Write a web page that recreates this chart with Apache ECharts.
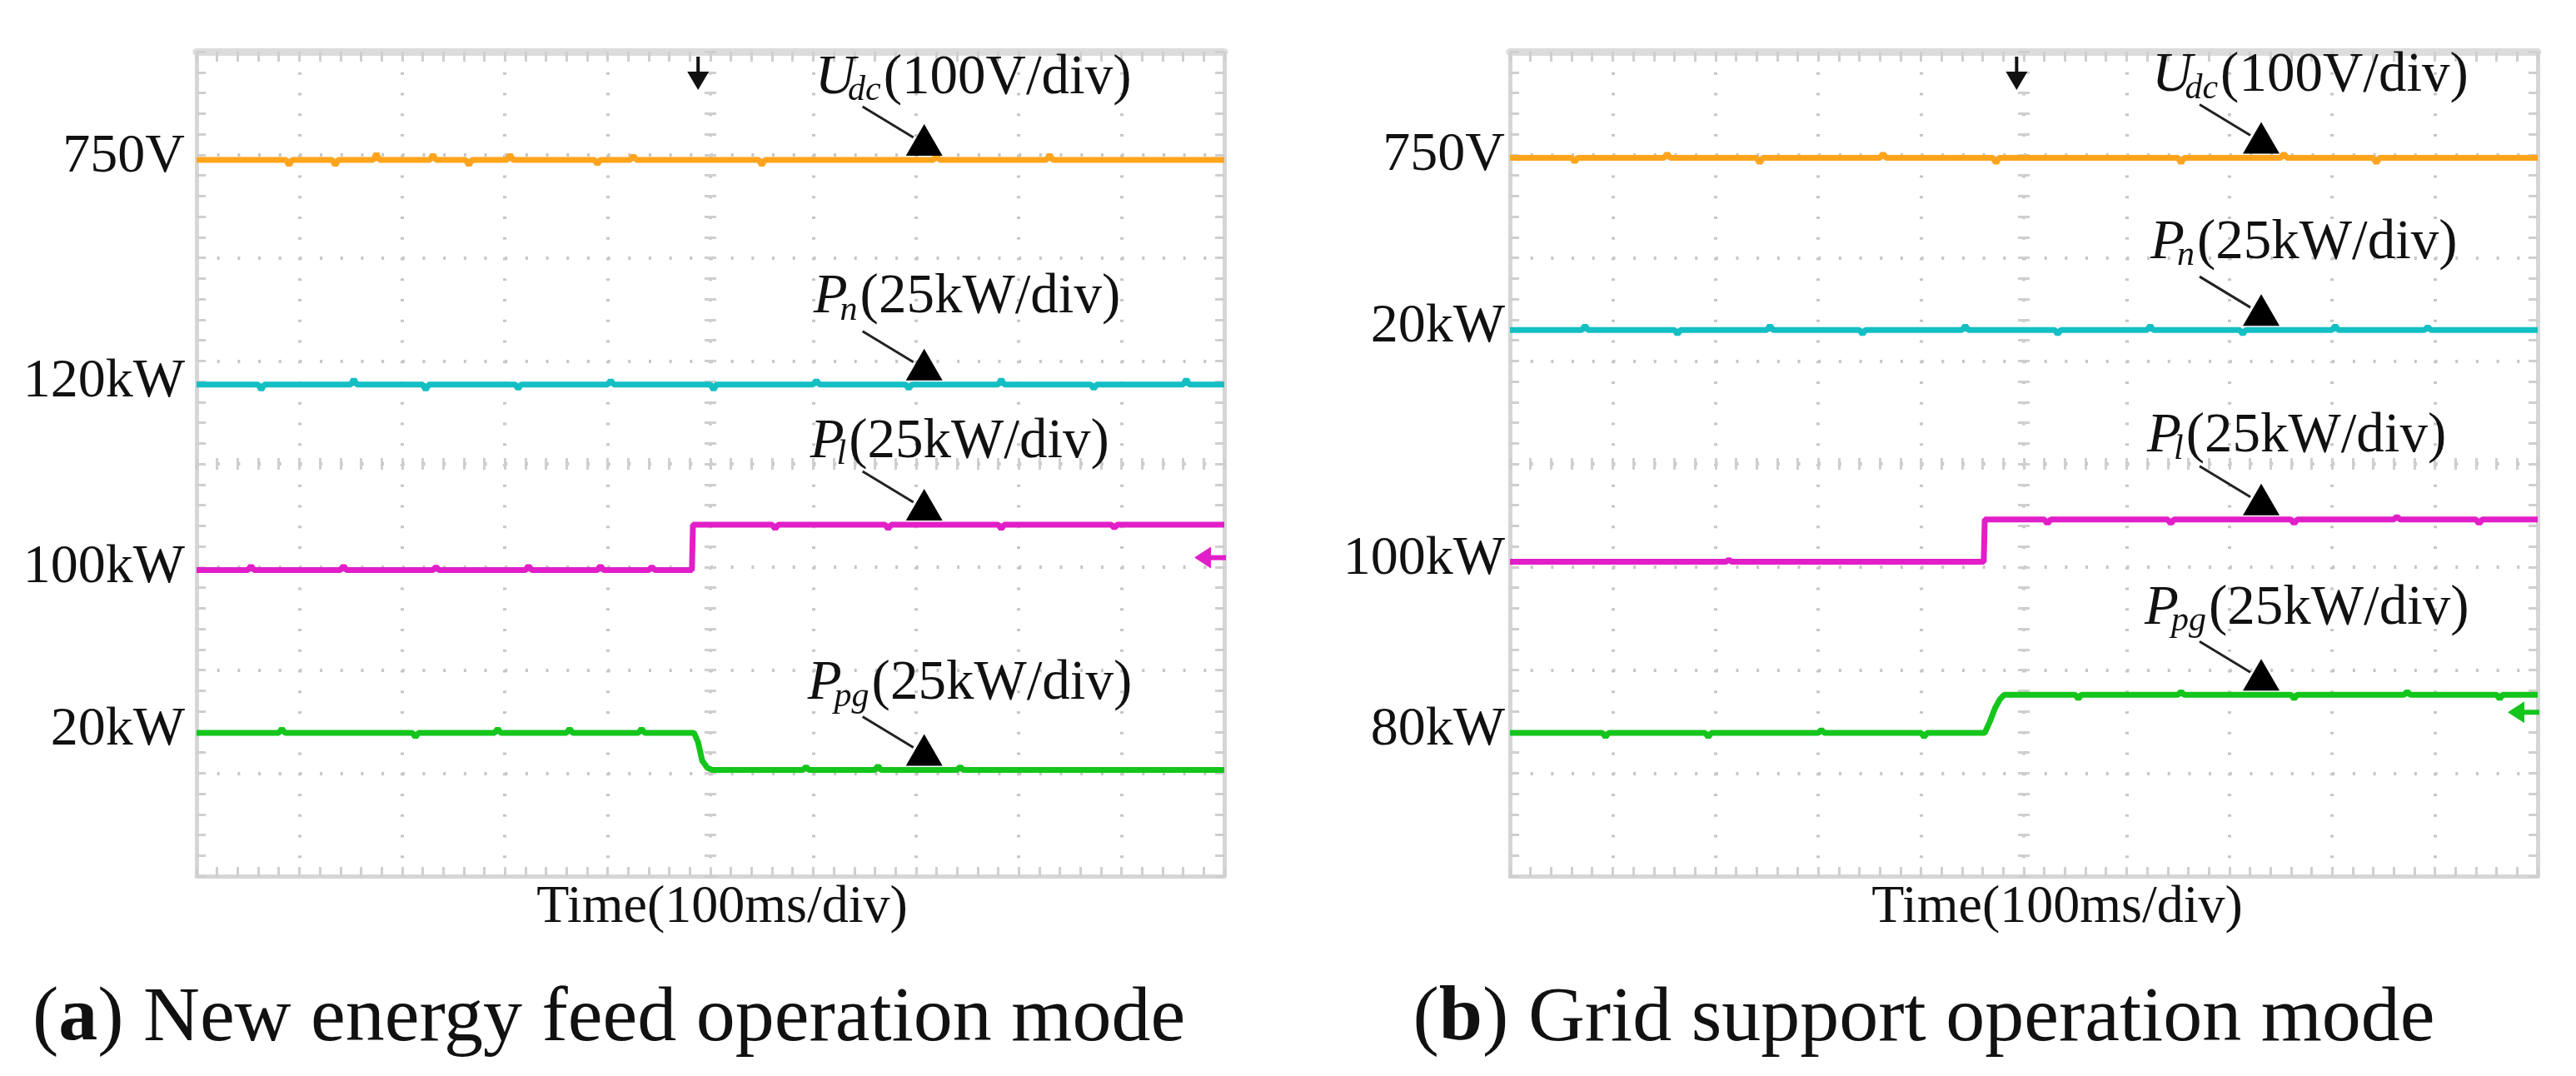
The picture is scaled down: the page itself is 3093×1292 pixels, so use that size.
<!DOCTYPE html>
<html><head><meta charset="utf-8">
<script src="https://cdn.jsdelivr.net/npm/echarts@6/dist/echarts.min.js"></script>
<style>html,body{margin:0;padding:0;background:#fff}#c{width:3093px;height:1292px}</style>
</head><body><div id="c"></div>
<script>
// ---------- DATA (oscilloscope traces, in divisions: x 0..10 time div, y 0..8 from bottom) ----------
const traceNames = ['Udc', 'Pn', 'Pl', 'Ppg'];
const traceColors = ['#ffa41c', '#14bfc4', '#e21ec8', '#14c51c'];
const mainSymbols = ['U', 'P', 'P', 'P'];
const subSymbols = ['dc', 'n', 'l', 'pg'];
const scaleTexts = ['(100V/div)', '(25kW/div)', '(25kW/div)', '(25kW/div)'];
const levelLabelsA = ['750V', '120kW', '100kW', '20kW'];
const levelLabelsB = ['750V', '20kW', '100kW', '80kW'];
const timeLabel = 'Time(100ms/div)';
const captionLetters = ['a', 'b'];
const captionTexts = [' New energy feed operation mode', ' Grid support operation mode'];

const udcA = [[0,6.95],[0.87,6.95],[0.9,6.9],[0.93,6.95],[1.32,6.95],[1.35,6.9],[1.38,6.95],[1.72,6.95],[1.75,7.01],[1.78,6.95],[2.27,6.95],[2.3,7.0],[2.33,6.95],[2.62,6.95],[2.65,6.9],[2.68,6.95],[3.02,6.95],[3.05,7.0],[3.08,6.95],[3.87,6.95],[3.9,6.91],[3.93,6.95],[4.22,6.95],[4.25,6.99],[4.28,6.95],[5.47,6.95],[5.5,6.9],[5.53,6.95],[7.17,6.95],[7.2,6.99],[7.23,6.95],[8.27,6.95],[8.3,7.0],[8.33,6.95],[10,6.95]];
const pnA = [[0,4.77],[0.6,4.77],[0.63,4.72],[0.66,4.77],[1.5,4.77],[1.53,4.82],[1.56,4.77],[2.2,4.77],[2.23,4.72],[2.26,4.77],[3.1,4.77],[3.13,4.73],[3.16,4.77],[4.0,4.77],[4.03,4.81],[4.06,4.77],[5.0,4.77],[5.03,4.72],[5.06,4.77],[6.0,4.77],[6.03,4.81],[6.06,4.77],[6.9,4.77],[6.93,4.73],[6.96,4.77],[7.8,4.77],[7.83,4.82],[7.86,4.77],[8.7,4.77],[8.73,4.73],[8.76,4.77],[9.6,4.77],[9.63,4.82],[9.66,4.77],[10,4.77]];
const plA = [[0,2.97],[0.5,2.97],[0.53,3.01],[0.56,2.97],[1.4,2.97],[1.43,3.01],[1.46,2.97],[2.3,2.97],[2.33,3.0],[2.36,2.97],[3.2,2.97],[3.23,3.01],[3.26,2.97],[3.9,2.97],[3.93,3.01],[3.96,2.97],[4.4,2.97],[4.43,3.0],[4.46,2.97],[4.82,2.97],[4.83,3.41],[5.6,3.41],[5.63,3.37],[5.66,3.41],[6.7,3.41],[6.73,3.37],[6.76,3.41],[7.8,3.41],[7.83,3.37],[7.86,3.41],[8.9,3.41],[8.93,3.38],[8.96,3.41],[10,3.41]];
const ppgA = [[0,1.39],[0.8,1.39],[0.83,1.43],[0.86,1.39],[2.1,1.39],[2.13,1.35],[2.16,1.39],[2.9,1.39],[2.93,1.43],[2.96,1.39],[3.6,1.39],[3.63,1.43],[3.66,1.39],[4.3,1.39],[4.33,1.43],[4.36,1.39],[4.84,1.39],[4.88,1.3],[4.92,1.12],[4.97,1.05],[5.02,1.03],[5.9,1.03],[5.93,1.06],[5.96,1.03],[6.6,1.03],[6.63,1.07],[6.66,1.03],[7.4,1.03],[7.43,1.06],[7.46,1.03],[10,1.03]];

const udcB = [[0,6.97],[0.6,6.97],[0.63,6.93],[0.66,6.97],[1.5,6.97],[1.53,7.01],[1.56,6.97],[2.4,6.97],[2.43,6.92],[2.46,6.97],[3.6,6.97],[3.63,7.01],[3.66,6.97],[4.7,6.97],[4.73,6.92],[4.76,6.97],[6.5,6.97],[6.53,6.92],[6.56,6.97],[7.5,6.97],[7.53,7.01],[7.56,6.97],[8.4,6.97],[8.43,6.92],[8.46,6.97],[10,6.97]];
const pnB = [[0,5.30],[0.7,5.30],[0.73,5.34],[0.76,5.30],[1.6,5.30],[1.63,5.26],[1.66,5.30],[2.5,5.30],[2.53,5.34],[2.56,5.30],[3.4,5.30],[3.43,5.26],[3.46,5.30],[4.4,5.30],[4.43,5.34],[4.46,5.30],[5.3,5.30],[5.33,5.26],[5.36,5.30],[6.2,5.30],[6.23,5.34],[6.26,5.30],[7.1,5.30],[7.13,5.26],[7.16,5.30],[8.0,5.30],[8.03,5.34],[8.06,5.30],[8.9,5.30],[8.93,5.33],[8.96,5.30],[10,5.30]];
const plB = [[0,3.05],[2.1,3.05],[2.13,3.07],[2.16,3.05],[4.61,3.05],[4.62,3.46],[5.2,3.46],[5.23,3.42],[5.26,3.46],[6.4,3.46],[6.43,3.42],[6.46,3.46],[7.6,3.46],[7.63,3.42],[7.66,3.46],[8.6,3.46],[8.63,3.49],[8.66,3.46],[9.4,3.46],[9.43,3.42],[9.46,3.46],[10,3.46]];
const ppgB = [[0,1.39],[0.9,1.39],[0.93,1.35],[0.96,1.39],[1.9,1.39],[1.93,1.35],[1.96,1.39],[3.0,1.39],[3.03,1.42],[3.06,1.39],[4.0,1.39],[4.03,1.35],[4.06,1.39],[4.62,1.39],[4.67,1.5],[4.72,1.63],[4.77,1.72],[4.81,1.76],[5.5,1.76],[5.53,1.72],[5.56,1.76],[6.5,1.76],[6.53,1.79],[6.56,1.76],[7.6,1.76],[7.63,1.72],[7.66,1.76],[8.7,1.76],[8.73,1.79],[8.76,1.76],[9.6,1.76],[9.63,1.72],[9.66,1.76],[10,1.76]];

const tracesA = [udcA, pnA, plA, ppgA];
const tracesB = [udcB, pnB, plB, ppgB];
const annotTime = [7.08, 7.31];          // where the black markers sit (div)
const triggerTime = [4.88, 4.93];        // trigger arrow on top
const refMarker = [[3.09, 2], [1.59, 3]]; // [level, trace index] of right-edge marker

// ---------- LAYOUT / STYLE ----------
const FONT = '"Liberation Serif","Times New Roman",serif';
const gridRects = [{left:236, top:62, width:1234, height:990}, {left:1813, top:62, width:1234, height:990}];
const labelGap = [14, 6];
const textDx = [-131, -133, -137, -140];
const textDy = [-77, -83, -78, -82];
const FRAME = '#d6d6d6', TICK = '#cfcfcf', DOT = '#c6c6c6';

const mctx = document.createElement('canvas').getContext('2d');
function tw(text, font){ mctx.font = font; return mctx.measureText(text).width; }
function valueAt(d, t){ let v = d[0][1]; for (const p of d){ if (p[0] <= t) v = p[1]; } return v; }

const grids = [], xAxes = [], yAxes = [], series = [], graphics = [];

function tickStyle(inside, len){
  return {
    axisTick:{show:true, inside:inside, length:len, lineStyle:{color:TICK, width:3}},
    minorTick:{show:true, splitNumber:5, length:len, lineStyle:{color:TICK, width:3}}
  };
}

[tracesA, tracesB].forEach((traces, p) => {
  const r = gridRects[p];
  const g0 = grids.length;
  grids.push(Object.assign({}, r), Object.assign({}, r), Object.assign({}, r));
  const xi = xAxes.length, yi = yAxes.length;
  xAxes.push(Object.assign({type:'value', gridIndex:g0, position:'bottom', min:0, max:10, interval:1,
    axisLine:{show:true, onZero:false, lineStyle:{color:FRAME, width:5}}, axisLabel:{show:false},
    splitLine:{show:true, lineStyle:{color:DOT, width:4, type:[3, 21.75]}}}, tickStyle(true, 11)));
  xAxes.push(Object.assign({type:'value', gridIndex:g0, position:'top', min:0, max:10, interval:1,
    axisLine:{show:true, onZero:false, lineStyle:{color:'#dcdcdc', width:9}}, axisLabel:{show:false},
    splitLine:{show:false}}, tickStyle(true, 12)));
  yAxes.push(Object.assign({type:'value', gridIndex:g0, position:'left', min:0, max:8, interval:1,
    axisLine:{show:true, onZero:false, lineStyle:{color:FRAME, width:5}}, axisLabel:{show:false},
    splitLine:{show:true, lineStyle:{color:DOT, width:4, type:[3, 21.68]}}}, tickStyle(true, 11)));
  yAxes.push(Object.assign({type:'value', gridIndex:g0, position:'right', min:0, max:8, interval:1,
    axisLine:{show:true, onZero:false, lineStyle:{color:FRAME, width:5}}, axisLabel:{show:false},
    splitLine:{show:false}}, tickStyle(true, 11)));
  [true, false].forEach((ins, k) => {
    xAxes.push(Object.assign({type:'value', gridIndex:g0+1+k, min:-5, max:5, interval:1,
      axisLine:{show:true, onZero:true, lineStyle:{opacity:0}}, axisLabel:{show:false}, splitLine:{show:false}}, tickStyle(ins, 7)));
    yAxes.push(Object.assign({type:'value', gridIndex:g0+1+k, min:-4, max:4, interval:1,
      axisLine:{show:true, onZero:true, lineStyle:{opacity:0}}, axisLabel:{show:false}, splitLine:{show:false}}, tickStyle(ins, 7)));
  });

  traces.forEach((d, i) => {
    series.push({type:'line', name:traceNames[i], xAxisIndex:xi, yAxisIndex:yi, data:d, symbol:'none',
      lineStyle:{color:traceColors[i], width:7}, itemStyle:{color:traceColors[i]}, z:3, silent:true, animation:false});
  });

  const levelLabels = p === 0 ? levelLabelsA : levelLabelsB;
  const fMain = 'italic 67px ' + FONT, fSub = 'italic 42px ' + FONT, fUnit = '67px ' + FONT;
  series.push({
    type:'custom', xAxisIndex:xi, yAxisIndex:yi, clip:false, z:5, silent:true, animation:false,
    data: traces.map((d, i) => [annotTime[p], valueAt(d, annotTime[p]), i, d[0][1]]),
    encode:{x:0, y:1},
    renderItem: function(params, api){
      const i = api.value(2);
      const pt = api.coord([api.value(0), api.value(1)]);
      const st = api.coord([0, api.value(3)]);
      const x = pt[0], y = pt[1];
      const yb = y - 5;
      const tx = x + textDx[i], ty = y + textDy[i] - 21;
      const wM = tw(mainSymbols[i], fMain), wS = tw(subSymbols[i], fSub);
      return {type:'group', children:[
        {type:'polygon', shape:{points:[[x, yb-38],[x-22, yb],[x+22, yb]]}, style:{fill:'#000'}},
        {type:'line', shape:{x1:x-74, y1:y-64, x2:x-13, y2:y-27}, style:{stroke:'#222', lineWidth:3}},
        {type:'text', x:tx, y:ty, style:{text:mainSymbols[i], font:fMain, fill:'#111', align:'left', verticalAlign:'middle'}},
        {type:'text', x:tx + wM - 9, y:ty + 15, style:{text:subSymbols[i], font:fSub, fill:'#111', align:'left', verticalAlign:'middle'}},
        {type:'text', x:tx + wM - 9 + wS + 3, y:ty, style:{text:scaleTexts[i], font:fUnit, fill:'#111', align:'left', verticalAlign:'middle'}},
        {type:'text', x:st[0] - labelGap[p], y:st[1] - 3, style:{text:levelLabels[i], font:'66px ' + FONT, fill:'#111', align:'right', verticalAlign:'middle'}}
      ]};
    }
  });

  series.push({
    type:'custom', xAxisIndex:xi, yAxisIndex:yi, clip:false, z:6, silent:true, animation:false,
    data:[[triggerTime[p], 8, 0], [10, refMarker[p][0], 1]],
    encode:{x:0, y:1},
    renderItem: function(params, api){
      const kind = api.value(2);
      const c = api.coord([api.value(0), api.value(1)]);
      if (kind === 0){
        return {type:'group', children:[
          {type:'rect', shape:{x:c[0]-2, y:c[1]+6, width:4, height:24}, style:{fill:'#111'}},
          {type:'polygon', shape:{points:[[c[0]-13, c[1]+24],[c[0]+13, c[1]+24],[c[0], c[1]+46]]}, style:{fill:'#111'}}
        ]};
      }
      const col = traceColors[refMarker[p][1]];
      return {type:'group', children:[
        {type:'polygon', shape:{points:[[c[0]-36, c[1]],[c[0]-16, c[1]-13],[c[0]-16, c[1]+13]]}, style:{fill:col}},
        {type:'rect', shape:{x:c[0]-18, y:c[1]-3, width:20, height:6}, style:{fill:col}}
      ]};
    }
  });
});

const timeCenters = [867, 2470];
const captionCenters = [731, 2310];
for (let p = 0; p < 2; p++){
  graphics.push({type:'text', x:timeCenters[p], y:1090, style:{text:timeLabel, font:'64px ' + FONT, fill:'#111', align:'center', verticalAlign:'middle'}});
  graphics.push({type:'text', x:captionCenters[p], y:1224, style:{
    text:'(' + '{b|' + captionLetters[p] + '}' + ')' + captionTexts[p],
    font:'94px ' + FONT, fill:'#111', align:'center', verticalAlign:'middle',
    rich:{b:{font:'bold 94px ' + FONT, fill:'#111'}}}});
}

const chart = echarts.init(document.getElementById('c'), null, {renderer:'canvas'});
chart.setOption({
  backgroundColor:'#ffffff',
  animation:false,
  grid:grids, xAxis:xAxes, yAxis:yAxes, series:series, graphic:graphics
});
</script></body></html>
